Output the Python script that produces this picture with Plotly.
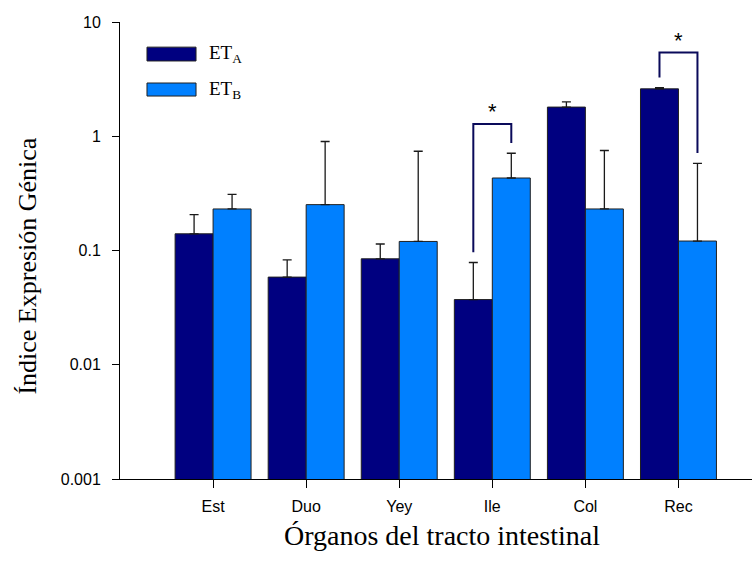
import math
import plotly.graph_objects as go

categories = ["Est", "Duo", "Yey", "Ile", "Col", "Rec"]
et_a = [0.140, 0.0585, 0.0846, 0.0372, 1.80, 2.60]
et_a_upper = [0.206, 0.0828, 0.114, 0.0785, 2.00, 2.66]
et_b = [0.231, 0.252, 0.120, 0.431, 0.231, 0.121]
et_b_upper = [0.31, 0.90, 0.739, 0.71, 0.75, 0.58]

sig_categories = ["Ile", "Rec"]
sig_bracket_top = [1.28, 5.4]
sig_label = "*"

y_tickvals = [0.001, 0.01, 0.1, 1, 10]
y_ticktext = ["0.001", "0.01", "0.1", "1", "10"]

DARK = "#000080"
LIGHT = "#0080FF"
SERIF = "Liberation Serif"
SANS = "Liberation Sans"

x_idx = list(range(len(categories)))
bar_w = 0.408  # width of one bar in category units

fig = go.Figure()
fig.add_trace(go.Bar(
    x=[i - bar_w / 2 for i in x_idx], y=et_a, width=bar_w, name="ETA",
    marker=dict(color=DARK, line=dict(color="#202020", width=1)),
    error_y=dict(type="data", symmetric=False,
                 array=[u - v for u, v in zip(et_a_upper, et_a)],
                 arrayminus=[0] * len(et_a),
                 color="#1a1a1a", thickness=1.3, width=4.5),
    showlegend=False,
))
fig.add_trace(go.Bar(
    x=[i + bar_w / 2 for i in x_idx], y=et_b, width=bar_w, name="ETB",
    marker=dict(color=LIGHT, line=dict(color="#202020", width=1)),
    error_y=dict(type="data", symmetric=False,
                 array=[u - v for u, v in zip(et_b_upper, et_b)],
                 arrayminus=[0] * len(et_b),
                 color="#1a1a1a", thickness=1.3, width=4.5),
    showlegend=False,
))

# significance brackets
gap = 1.23
for cat, top in zip(sig_categories, sig_bracket_top):
    i = categories.index(cat)
    xl = i - bar_w / 2
    xr = i + bar_w / 2
    yl = max(et_a_upper[i], et_a[i]) * gap
    yr = max(et_b_upper[i], et_b[i]) * gap
    fig.add_trace(go.Scatter(
        x=[xl, xl, xr, xr], y=[yl, top, top, yr], mode="lines",
        line=dict(color="#0a0a5a", width=2), showlegend=False,
        hoverinfo="skip",
    ))
    fig.add_annotation(x=i, y=math.log10(top), xref="x", yref="y",
                       text=sig_label, showarrow=False, yanchor="bottom",
                       yshift=-2,
                       font=dict(family=SANS, size=22, color="#000000"))

# legend (manual)
leg_items = [("ET<sub>A</sub>", DARK, 0.945, 0.9147),
             ("ET<sub>B</sub>", LIGHT, 0.8665, 0.838)]
for txt, col, y0, y1 in leg_items:
    fig.add_shape(type="rect", xref="paper", yref="paper",
                  x0=0.0427, x1=0.1203, y0=y1, y1=y0,
                  fillcolor=col, line=dict(color="#202020", width=1))
    fig.add_annotation(xref="paper", yref="paper", x=0.138, y=(y0 + y1) / 2,
                       text=txt, showarrow=False, xanchor="left",
                       yanchor="middle",
                       font=dict(family=SERIF, size=19, color="#000000"))

# axis titles
fig.add_annotation(xref="paper", yref="paper", x=0.509, y=-0.123,
                   text="Órganos del tracto intestinal", showarrow=False,
                   xanchor="center", yanchor="middle",
                   font=dict(family=SERIF, size=28, color="#000000"))
fig.add_annotation(xref="paper", yref="paper", x=-0.147, y=0.465,
                   text="Índice Expresión Génica", showarrow=False,
                   textangle=-90, xanchor="center", yanchor="middle",
                   font=dict(family=SERIF, size=26, color="#000000"))

fig.update_layout(
    width=756, height=562,
    margin=dict(l=120, r=4, t=22, b=83),
    plot_bgcolor="white", paper_bgcolor="white",
    barmode="overlay",
    showlegend=False,
    xaxis=dict(
        range=[-1, 5.79], tickvals=x_idx, ticktext=categories,
        showline=True, linecolor="#000000", linewidth=1,
        ticks="outside", ticklen=8, tickcolor="#000000",
        showgrid=False, zeroline=False,
        tickfont=dict(family=SANS, size=16, color="#000000"),
        ticklabelstandoff=5,
    ),
    yaxis=dict(
        type="log", range=[-3, 1], tickvals=y_tickvals, ticktext=y_ticktext,
        showline=True, linecolor="#000000", linewidth=1,
        ticks="outside", ticklen=7, tickcolor="#000000",
        showgrid=False, zeroline=False,
        tickfont=dict(family=SANS, size=16, color="#000000"),
        ticklabelstandoff=8,
    ),
)

fig.write_html("out.html")
